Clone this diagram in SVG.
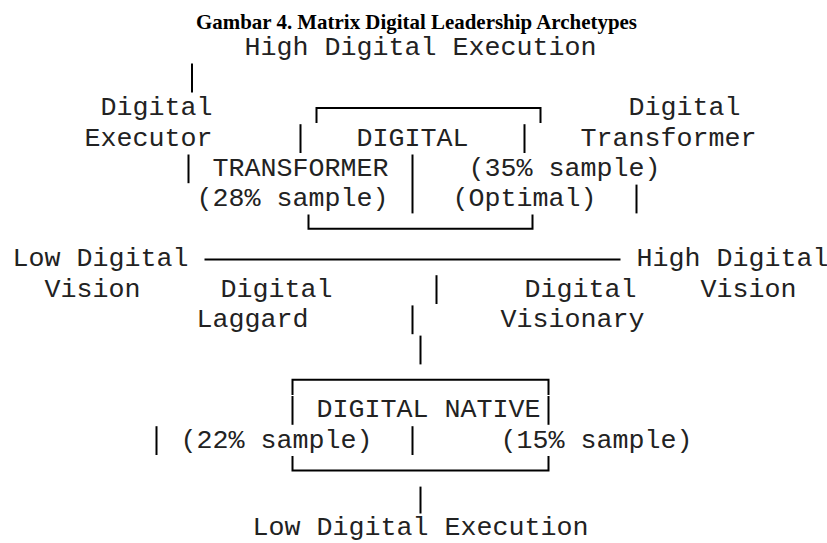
<svg xmlns="http://www.w3.org/2000/svg" width="827" height="543" viewBox="0 0 827 543">
  <style>
    .title { font-family: "Liberation Serif", "Times New Roman", serif; font-weight: bold; font-size: 21px; fill: #000; }
    .mono { font-family: "Liberation Mono", "Courier New", monospace; font-size: 26.67px; fill: #222; }
    .rule { stroke: #000; stroke-width: 2; fill: none; }
  </style>
  <rect width="827" height="543" fill="#fff"/>

  <!-- caption -->
  <g id="caption">
    <text class="title" x="196" y="29" textLength="441" lengthAdjust="spacingAndGlyphs">Gambar 4. Matrix Digital Leadership Archetypes</text>
  </g>

  <!-- axis labels -->
  <g id="axis-high-execution">
    <text class="mono" x="244.5" y="55">High Digital Execution</text>
  </g>
  <g id="axis-low-vision">
    <text class="mono" x="12.5" y="266.4">Low Digital</text>
    <text class="mono" x="44.5" y="296.6">Vision</text>
  </g>
  <g id="axis-high-vision">
    <text class="mono" x="636.5" y="266.4">High Digital</text>
    <text class="mono" x="700.5" y="296.6">Vision</text>
  </g>
  <g id="axis-low-execution">
    <text class="mono" x="252.5" y="535">Low Digital Execution</text>
  </g>

  <!-- quadrant labels -->
  <g id="digital-executor">
    <text class="mono" x="100.5" y="115.4">Digital</text>
    <text class="mono" x="84.5" y="145.6">Executor</text>
  </g>
  <g id="digital-transformer">
    <text class="mono" x="628.5" y="115.4">Digital</text>
    <text class="mono" x="580.5" y="145.6">Transformer</text>
  </g>
  <g id="digital-laggard">
    <text class="mono" x="220.5" y="296.6">Digital</text>
    <text class="mono" x="196.5" y="326.8">Laggard</text>
  </g>
  <g id="digital-visionary">
    <text class="mono" x="524.5" y="296.6">Digital</text>
    <text class="mono" x="500.5" y="326.8">Visionary</text>
  </g>

  <!-- upper box: DIGITAL TRANSFORMER -->
  <g id="box-digital-transformer">
    <path class="rule" d="M316.5,123 V108 H540.5 V123"/>
    <path class="rule" d="M308.5,214.5 V228.8 H532.5 V214.5"/>
    <text class="mono" x="356.5" y="145.6">DIGITAL</text>
    <text class="mono" x="212.5" y="175.8">TRANSFORMER</text>
    <text class="mono" x="468.5" y="175.8">(35% sample)</text>
    <text class="mono" x="196.5" y="206">(28% sample)</text>
    <text class="mono" x="452.5" y="206">(Optimal)</text>
  </g>

  <!-- lower box: DIGITAL NATIVE -->
  <g id="box-digital-native">
    <path class="rule" d="M292.5,395 V379.8 H548.5 V395"/>
    <path class="rule" d="M292.5,456 V470.4 H548.5 V456"/>
    <text class="mono" x="316.5" y="417.4">DIGITAL NATIVE</text>
    <text class="mono" x="180.5" y="447.6">(22% sample)</text>
    <text class="mono" x="500.5" y="447.6">(15% sample)</text>
  </g>

  <!-- vertical and horizontal rules -->
  <g id="connectors" class="rule">
    <line x1="192" y1="63.5" x2="192" y2="92.5"/>
    <line x1="300.5" y1="124.2" x2="300.5" y2="153"/>
    <line x1="524.5" y1="124.2" x2="524.5" y2="153"/>
    <line x1="188.5" y1="154.5" x2="188.5" y2="183.2"/>
    <line x1="412.5" y1="154.5" x2="412.5" y2="213.4"/>
    <line x1="636.5" y1="184.6" x2="636.5" y2="213.4"/>
    <line x1="204.5" y1="259.5" x2="620.5" y2="259.5"/>
    <line x1="436.5" y1="275.2" x2="436.5" y2="304"/>
    <line x1="412.5" y1="305.4" x2="412.5" y2="334.2"/>
    <line x1="420.5" y1="335.6" x2="420.5" y2="364.4"/>
    <line x1="292.5" y1="396" x2="292.5" y2="424.8"/>
    <line x1="548.5" y1="396" x2="548.5" y2="424.8"/>
    <line x1="156.5" y1="426.2" x2="156.5" y2="455"/>
    <line x1="412.5" y1="426.2" x2="412.5" y2="455"/>
    <line x1="420.5" y1="486.6" x2="420.5" y2="513.5"/>
  </g>
</svg>
